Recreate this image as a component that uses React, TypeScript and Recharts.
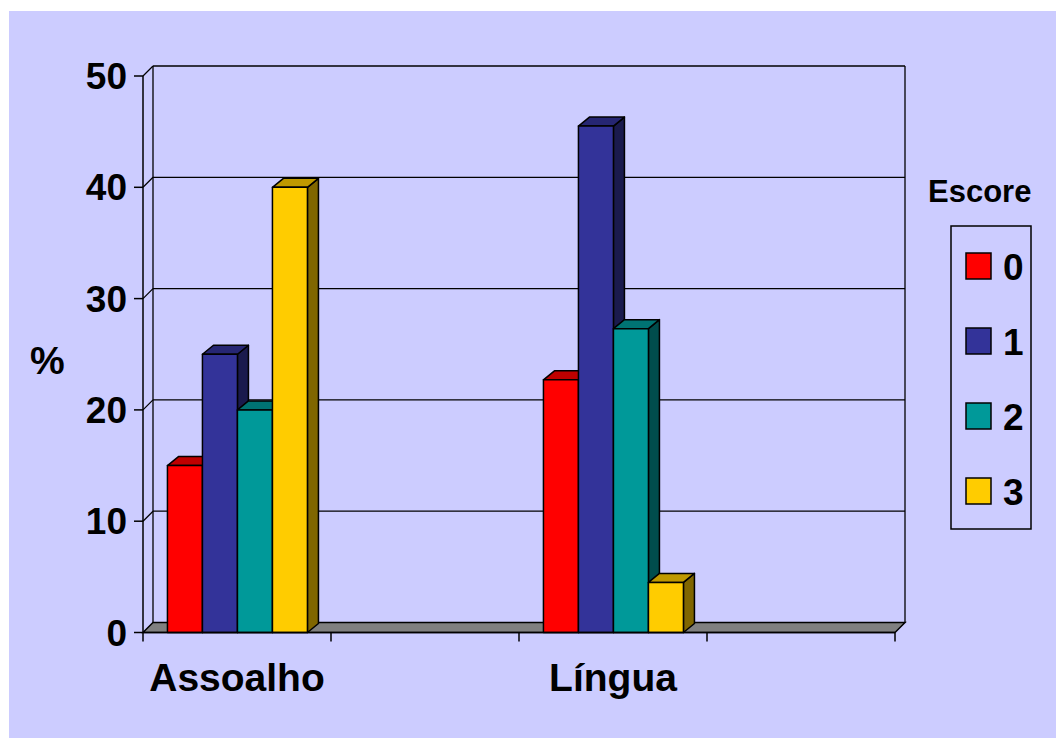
import { BarChart, Bar, XAxis, YAxis, CartesianGrid, Legend } from "recharts"

const categories = ["Assoalho", "", "Língua", ""]
const scoreNames = ["0", "1", "2", "3"]
const score0 = [15, null, 22.7, null]
const score1 = [25, null, 45.5, null]
const score2 = [20, null, 27.3, null]
const score3 = [40, null, 4.5, null]
const yTicks = [0, 10, 20, 30, 40, 50]

const seriesValues = [score0, score1, score2, score3]
const data = categories.map((name, i) => {
    const row: Record<string, string | number | null> = { name }
    scoreNames.forEach((s, k) => { row["s" + s] = seriesValues[k][i] })
    return row
})

// front / top / side shades, like the old excel 3d columns
const colors = ["#FF0000", "#333399", "#009999", "#FFCC00"]
const tops = ["#BF0000", "#262673", "#007373", "#BF9900"]
const sides = ["#800000", "#1A1A4D", "#004D4D", "#806600"]

const FONT = '"Liberation Sans", Arial, sans-serif'
const WALL_DX = 10
const WALL_DY = 10
const BAR_DX = 11
const BAR_DY = 9

function Column3D(props: any) {
    const { x, y, width, height, fill, top, side, value } = props
    if (value == null || !height || height <= 0) return null
    const r = x + width
    const b = y + height
    return (
        <g stroke="#000" strokeWidth={1.5} strokeLinejoin="round">
            <polygon points={`${r},${y} ${r + BAR_DX},${y - BAR_DY} ${r + BAR_DX},${b - BAR_DY} ${r},${b}`} fill={side} />
            <polygon points={`${x},${y} ${x + BAR_DX},${y - BAR_DY} ${r + BAR_DX},${y - BAR_DY} ${r},${y}`} fill={top} />
            <rect x={x} y={y} width={width} height={height} fill={fill} />
        </g>
    )
}

// back wall gridline + diagonal from the front axis; the zero line becomes the floor
function WallLine(props: any) {
    const { x1, y1, x2, y2 } = props
    const bottom = (props.y ?? 0) + (props.height ?? 0)
    if (Math.abs(y1 - bottom) < 1) {
        return (
            <polygon
                points={`${x1},${y1} ${x2},${y2} ${x2 + WALL_DX},${y2 - WALL_DY} ${x1 + WALL_DX},${y1 - WALL_DY}`}
                fill="#808080" stroke="#000" strokeWidth={1.5}
            />
        )
    }
    return (
        <g stroke="#000" strokeWidth={1.3}>
            <line x1={x1} y1={y1} x2={x1 + WALL_DX} y2={y1 - WALL_DY} />
            <line x1={x1 + WALL_DX} y1={y1 - WALL_DY} x2={x2 + WALL_DX} y2={y2 - WALL_DY} />
        </g>
    )
}

function WallEdge(props: any) {
    const { x1, y1, x2, y2 } = props
    return <line x1={x1 + WALL_DX} y1={y1 - WALL_DY} x2={x2 + WALL_DX} y2={y2 - WALL_DY} stroke="#000" strokeWidth={1.3} />
}

function CategoryTick(props: any) {
    const { x, y, payload, index } = props
    const half = payload?.offset || 94
    return (
        <g>
            <line x1={x - half} y1={y} x2={x - half} y2={y + 9} stroke="#000" strokeWidth={1.5} />
            {index === categories.length - 1 && (
                <line x1={x + half} y1={y} x2={x + half} y2={y + 9} stroke="#000" strokeWidth={1.5} />
            )}
            <text x={x} y={y + 45} dy="0.355em" textAnchor="middle" fill="#000"
                fontSize={39} fontWeight={700} fontFamily={FONT}>
                {payload.value}
            </text>
        </g>
    )
}

function ScoreLegend(props: any) {
    const items = props.payload || []
    return (
        <svg width={130} height={380} style={{ display: "block" }}>
            <text x={9} y={42} fontSize={31} fontWeight={700} fontFamily={FONT} fill="#000">Escore</text>
            <rect x={32} y={66} width={80} height={303} fill="none" stroke="#000" strokeWidth={1.5} />
            {items.map((it: any, i: number) => (
                <g key={it.value}>
                    <rect x={47} y={93 + i * 75} width={25} height={26} fill={it.color} stroke="#000" strokeWidth={1.5} />
                    <text x={84} y={120 + i * 75} fontSize={37} fontWeight={700} fontFamily={FONT} fill="#000">
                        {it.value}
                    </text>
                </g>
            ))}
        </svg>
    )
}

export default function App() {
    return (
        <div style={{ position: "absolute", left: 9, top: 11, width: 1047, height: 727, background: "#CCCCFF", overflow: "hidden" }}>
            <BarChart
                width={1047}
                height={727}
                data={data}
                margin={{ top: 65, right: 161, bottom: 25.5, left: 54 }}
                barCategoryGap="13%"
                barGap={0}
            >
                <CartesianGrid
                    horizontal={WallLine}
                    vertical={WallEdge}
                    verticalCoordinatesGenerator={({ offset }: any) => [offset.left, offset.left + offset.width]}
                />
                <XAxis
                    dataKey="name"
                    height={80}
                    axisLine={{ stroke: "#000", strokeWidth: 1.5 }}
                    tickLine={false}
                    tickSize={0}
                    tickMargin={0}
                    tick={<CategoryTick />}
                    interval={0}
                />
                <YAxis
                    width={80}
                    domain={[0, 50]}
                    ticks={yTicks}
                    interval={0}
                    axisLine={{ stroke: "#000", strokeWidth: 1.5 }}
                    tickLine={{ stroke: "#000", strokeWidth: 1.5 }}
                    tickSize={9}
                    tickMargin={7}
                    tick={{ fill: "#000", fontSize: 37, fontWeight: 700, fontFamily: FONT }}
                    label={{
                        value: "%", position: "insideLeft", offset: -33, dy: 6,
                        fill: "#000", fontSize: 39, fontWeight: 700, fontFamily: FONT,
                    }}
                />
                <Legend
                    layout="vertical"
                    align="center"
                    verticalAlign="middle"
                    content={<ScoreLegend />}
                    wrapperStyle={{ left: 910, top: 149, width: 130, height: 380 }}
                />
                {scoreNames.map((s, k) => (
                    <Bar
                        key={s}
                        dataKey={"s" + s}
                        name={s}
                        fill={colors[k]}
                        isAnimationActive={false}
                        shape={(p: any) => <Column3D {...p} top={tops[k]} side={sides[k]} />}
                    />
                ))}
            </BarChart>
        </div>
    )
}
